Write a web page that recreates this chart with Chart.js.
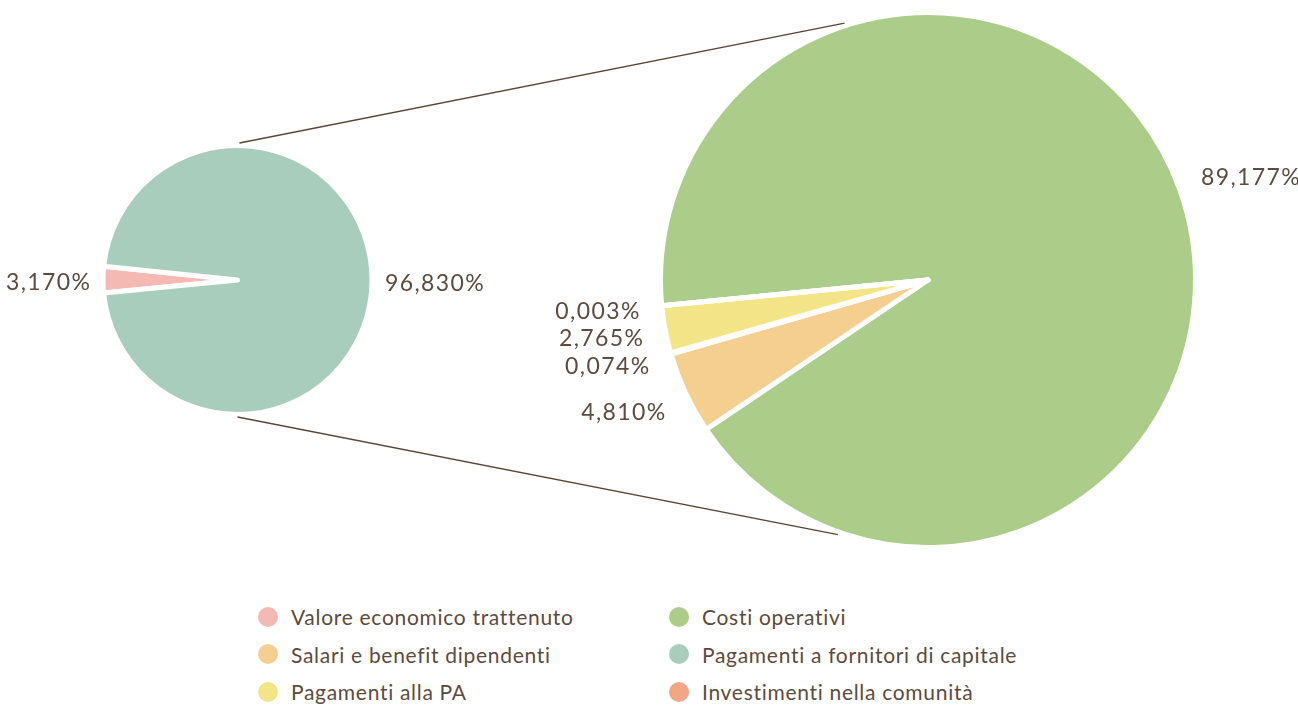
<!DOCTYPE html>
<html><head><meta charset="utf-8">
<script src="https://cdn.jsdelivr.net/npm/chart.js@4.4.0/dist/chart.umd.min.js"></script>
<style>
html,body{margin:0;padding:0;background:#fff;width:1298px;height:705px;overflow:hidden;}
#wrap{position:relative;width:1298px;height:705px;}
canvas{position:absolute;left:0;top:0;}
#legend{position:absolute;left:258px;top:598px;display:grid;grid-template-columns:411px 440px;font-family:Lato,"Open Sans",sans-serif;font-size:21px;letter-spacing:0.7px;color:#5d4b40;}
.item{display:flex;align-items:center;height:37.5px;white-space:nowrap;}
.dot{width:20px;height:20px;border-radius:50%;margin-right:13px;flex:none;}
</style>
</head><body>
<div id="wrap">
<canvas id="left" width="1298" height="560"></canvas>
<canvas id="right" width="1298" height="560"></canvas>
<div id="legend"></div>
</div>
<script>
// ---- data ----
const categories = ["Valore economico trattenuto","Costi operativi","Salari e benefit dipendenti","Pagamenti a fornitori di capitale","Pagamenti alla PA","Investimenti nella comunità"];
const categoryColors = ["#f5b9b3","#accd89","#f5cf90","#a9cdbd","#f3e487","#f3a684"];
const mainLabels = ["Valore economico trattenuto","Altre voci"];
const mainValues = [3.170, 96.830];
const mainColors = ["#f5b9b3","#a9cdbd"];
const detailLabels = ["Costi operativi","Salari e benefit dipendenti","Pagamenti a fornitori di capitale","Pagamenti alla PA","Investimenti nella comunità"];
const detailValues = [89.177, 4.810, 0.074, 2.765, 0.003];
const detailColors = ["#accd89","#f5cf90","#a9cdbd","#f3e487","#f3a684"];

const TEXT = "#5d4b40";
const FONT = '400 23px Lato, "Open Sans", sans-serif';
const fmt = v => v.toFixed(3).replace('.', ',') + '%';

const pctLabels = {
  id: 'pctLabels',
  afterDatasetsDraw(chart, args, opts) {
    const meta = chart.getDatasetMeta(0);
    const ctx = chart.ctx;
    ctx.save();
    ctx.font = FONT; ctx.fillStyle = TEXT; ctx.textBaseline = 'middle';
    ctx.letterSpacing = '1.4px';
    meta.data.forEach((arc, i) => {
      const v = chart.data.datasets[0].data[i];
      const mid = (arc.startAngle + arc.endAngle) / 2;
      const r = arc.outerRadius + opts.gap;
      const c = Math.cos(mid), s = Math.sin(mid);
      ctx.textAlign = c < 0 ? 'right' : 'left';
      const x = arc.x + c * r + (c < 0 ? 1.4 : 0);
      ctx.fillText(fmt(v), x, arc.y + s * r + opts.dy + s * opts.sinShift);
    });
    ctx.restore();
  }
};

function pieOptions(pad, radius, gap, dy, sinShift) {
  return {
    responsive: false, animation: false, devicePixelRatio: 1,
    rotation: 264.5,
    radius: radius,
    layout: { padding: pad },
    elements: { arc: { borderColor: '#ffffff', borderWidth: 5, borderJoinStyle: 'round' } },
    plugins: { legend: { display: false }, tooltip: { enabled: false },
      pctLabels: { gap: gap, dy: dy, sinShift: sinShift } }
  };
}

const leftChart = new Chart(document.getElementById('left'), {
  type: 'pie',
  data: { labels: mainLabels, datasets: [{ data: mainValues, backgroundColor: mainColors }] },
  options: pieOptions({ left: 0, right: 823, top: 0, bottom: 0 }, 134.5, 13, 3, 0),
  plugins: [pctLabels]
});

const connectors = {
  id: 'connectors',
  afterDatasetsDraw(chart) {
    const L = leftChart.getDatasetMeta(0).data[0];
    const R = chart.getDatasetMeta(0).data[0];
    const ctx = chart.ctx;
    const lr = L.outerRadius + 2.5, rr = R.outerRadius + 2.5;
    const aTop = 252 * Math.PI / 180, aBot = 109.5 * Math.PI / 180;
    ctx.save();
    ctx.strokeStyle = '#5a4536'; ctx.lineWidth = 1.3;
    ctx.beginPath();
    ctx.moveTo(L.x + 2, L.y - lr);
    ctx.lineTo(R.x + Math.cos(aTop) * rr, R.y + Math.sin(aTop) * rr);
    ctx.moveTo(L.x, L.y + lr);
    ctx.lineTo(R.x + Math.cos(aBot) * rr, R.y + Math.sin(aBot) * rr);
    ctx.stroke();
    ctx.restore();
  }
};

const rightChart = new Chart(document.getElementById('right'), {
  type: 'pie',
  data: { labels: detailLabels, datasets: [{ data: detailValues, backgroundColor: detailColors }] },
  options: pieOptions({ left: 648, right: 90, top: 0, bottom: 0 }, 267.5, 22.5, 2, 18),
  plugins: [pctLabels, connectors]
});

// legend (row-major, two columns)
const legend = document.getElementById('legend');
categories.forEach((name, i) => {
  const it = document.createElement('div'); it.className = 'item';
  const d = document.createElement('span'); d.className = 'dot'; d.style.background = categoryColors[i];
  const t = document.createElement('span'); t.textContent = name;
  it.appendChild(d); it.appendChild(t); legend.appendChild(it);
});
</script>
</body></html>
